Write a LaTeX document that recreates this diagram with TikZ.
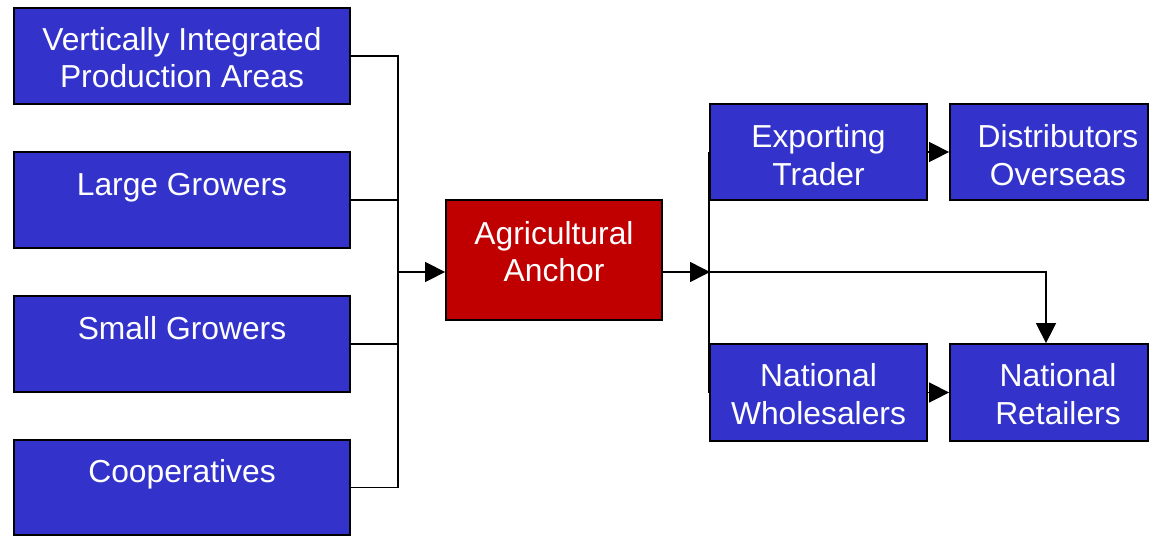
\documentclass[tikz,border=0pt]{standalone}
\usepackage{fontspec}
\setmainfont{Liberation Sans}
\usetikzlibrary{arrows.meta}
\definecolor{boxblue}{HTML}{3333CC}
\definecolor{anchorred}{HTML}{C00000}
\tikzset{
  box/.style={draw=black, line width=1.8pt, fill=boxblue, rectangle, inner sep=0pt},
  redbox/.style={box, fill=anchorred},
  txt/.style={text=white, align=center, inner sep=0pt, font=\fontsize{31.8}{37.5}\selectfont},
  onetxt/.style={txt, text height=23pt, text depth=7pt},
  conn/.style={line width=1.5pt, draw=black},
  arr/.style={conn, -{Triangle[length=20pt,width=20pt]}}
}
\begin{document}
\begin{tikzpicture}[x=1pt,y=-1pt]
\useasboundingbox (0,0) rectangle (1149,536);
% left boxes
\node[box, minimum width=336pt, minimum height=96pt] (b1) at (182,56) {};
\node[box, minimum width=336pt, minimum height=96pt] (b2) at (182,200) {};
\node[box, minimum width=336pt, minimum height=96pt] (b3) at (182,344) {};
\node[box, minimum width=336pt, minimum height=95pt] (b4) at (182,487.5) {};
\node[txt] (t1) at ([yshift=-1.5pt]b1.center) {Vertically Integrated\\Production Areas};
\node[onetxt] (t2) at ([yshift=13pt]b2.center) {Large Growers};
\node[onetxt] (t3) at ([yshift=13pt]b3.center) {Small Growers};
\node[onetxt] (t4) at ([yshift=13.5pt]b4.center) {Cooperatives};
% anchor
\node[redbox, minimum width=216pt, minimum height=120pt] (an) at (554,260) {};
\node[txt] (tan) at ([yshift=8.5pt]an.center) {Agricultural\\Anchor};
% right boxes
\node[box, minimum width=217pt, minimum height=96pt] (ex) at (818.5,152) {};
\node[box, minimum width=198pt, minimum height=96pt] (di) at (1049,152) {};
\node[box, minimum width=217pt, minimum height=97pt] (nw) at (818.5,392.5) {};
\node[box, minimum width=198pt, minimum height=97pt] (nr) at (1049,392.5) {};
\node[txt] (tex) at ([yshift=-3pt]ex.center) {Exporting\\Trader};
\node[txt] (tdi) at ([xshift=9pt,yshift=-3pt]di.center) {Distributors\\Overseas};
\node[txt] (tnw) at ([yshift=-1.5pt]nw.center) {National\\Wholesalers};
\node[txt] (tnr) at ([xshift=9pt,yshift=-1.5pt]nr.center) {National\\Retailers};
% connectors left
\coordinate (j) at (398,272);
\draw[conn] (b1.east) -| (j);
\draw[conn] (b2.east) -| (j);
\draw[conn] (b3.east) -| (j);
\draw[conn] (b4.east) -| (j);
\draw[arr] (j) -- (an.west |- j);
% connectors right
\coordinate (k) at (710,272);
\draw[arr] (an.east |- k) -- (k);
\draw[conn] (ex.west) -- (nw.west);
\draw[arr] (k) -| ([xshift=-3pt]nr.north);
\draw[arr] (ex.east) -- (di.west);
\draw[arr] (nw.east) -- (nr.west);
\end{tikzpicture}
\end{document}
